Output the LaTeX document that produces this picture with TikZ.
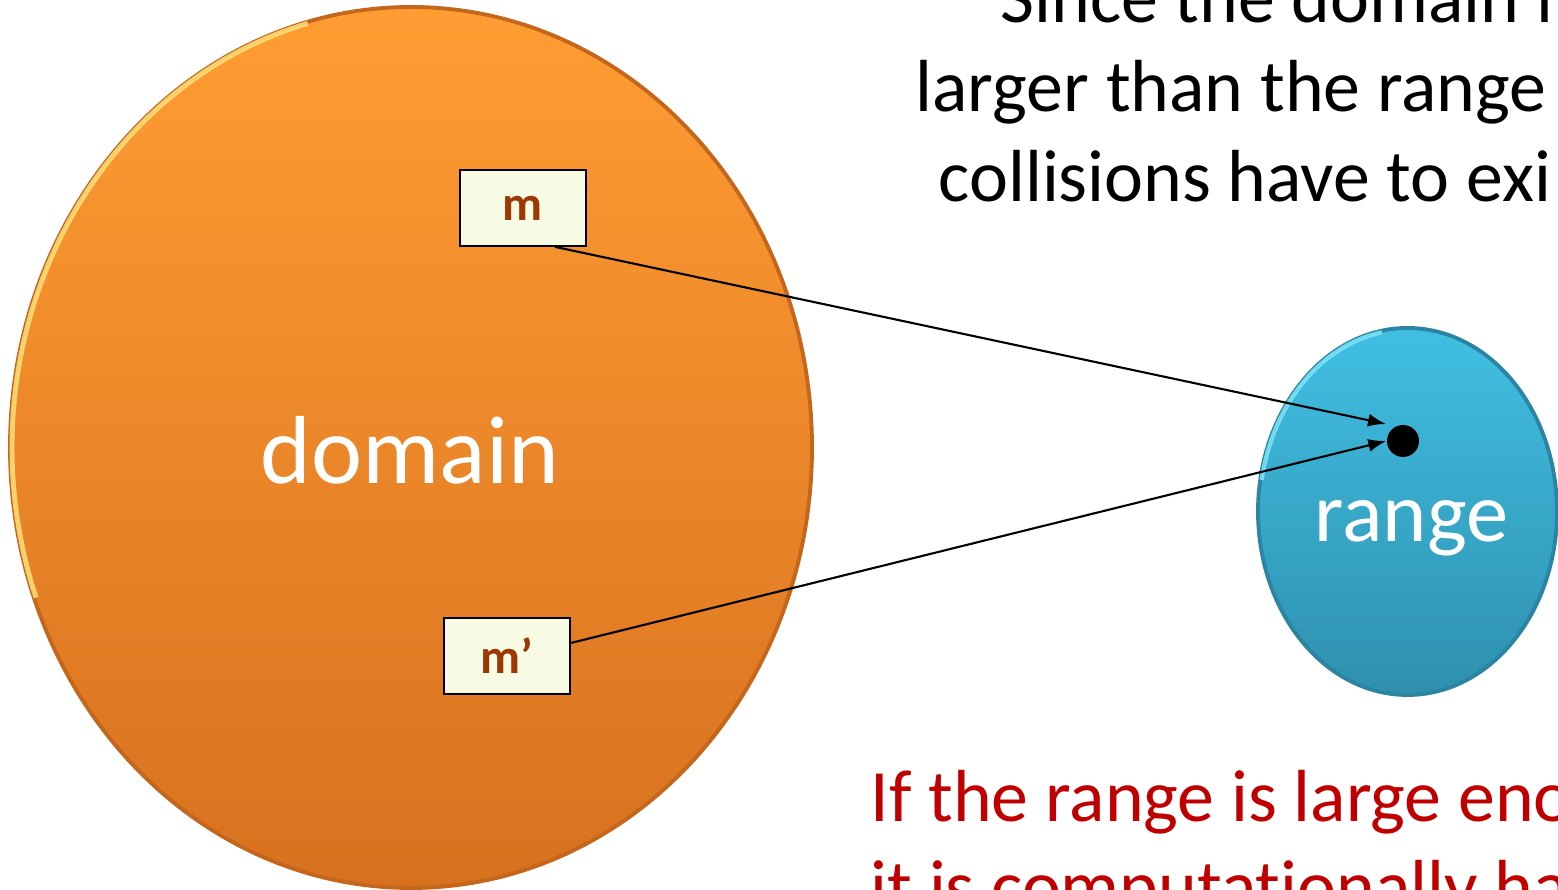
\documentclass[tikz,border=0pt]{standalone}
\usepackage{fontspec}
\setmainfont{Carlito}[Ligatures=NoCommon]
\usetikzlibrary{shapes.geometric,arrows.meta}
\tikzset{>={Latex[length=1.8mm,width=1.3mm]}}

\definecolor{domtop}{HTML}{FF9D33}
\definecolor{dombot}{HTML}{D7711F}
\definecolor{domedge}{HTML}{C4661C}
\definecolor{domrim}{HTML}{FFE27A}
\definecolor{rngtop}{HTML}{40BFE3}
\definecolor{rngbot}{HTML}{2F90AE}
\definecolor{rngedge}{HTML}{2B84A1}
\definecolor{rngrim}{HTML}{7FE8FA}
\definecolor{boxfill}{HTML}{F8FBE3}
\definecolor{msgtext}{HTML}{9C3805}
\definecolor{warnred}{HTML}{C00000}

\tikzset{
	blob/.style={ellipse, inner sep=0pt, line width=1.1pt},
	msgbox/.style={draw=black, line width=0.5pt, fill=boxfill, minimum width=1.26cm,
		minimum height=0.76cm, inner sep=0pt, text=msgtext,
		font=\fontsize{14}{16}\selectfont\bfseries},
	slide/.style={anchor=base west, inner sep=0pt, font=\fontsize{21}{25}\selectfont},
	mapsto/.style={->, line width=0.6pt}
}

\begin{document}
\begin{tikzpicture}
	%\draw[help lines] (0,0) grid (15,8);
	\useasboundingbox (0,0) rectangle (15.58,8.90);
	\clip (0,0) rectangle (15.58,8.90);
	% the two sets
	\node[blob, draw=domedge, top color=domtop, bottom color=dombot,
		minimum width=8.02cm, minimum height=8.81cm] (dom) at (4.11,4.425) {};
	\draw[domrim, line width=1.4pt, opacity=0.85] (dom.center) ++(105:3.99 and 4.39)
		arc[start angle=105, end angle=200, x radius=3.99, y radius=4.39];
	\node[text=white, font=\fontsize{27.5}{30}\selectfont] (domlbl) at (4.10,4.40) {domain};
	\node[blob, draw=rngedge, top color=rngtop, bottom color=rngbot,
		minimum width=2.99cm, minimum height=3.67cm] (rng) at (14.075,3.785) {};
	\draw[rngrim, line width=1.2pt, opacity=0.85] (rng.center) ++(100:1.48 and 1.82)
		arc[start angle=100, end angle=170, x radius=1.48, y radius=1.82];
	\node[text=white, anchor=base, font=\fontsize{24}{28}\selectfont] (rnglbl) at (14.115,3.48) {range};
	% messages and their common hash value
	\node[msgbox] (m) at (5.23,6.82) {m};
	\node[msgbox] (mp) at (5.07,2.34) {m’};
	\node[circle, fill=black, minimum size=0.32cm, inner sep=0pt] (hash) at (14.03,4.49) {};
	\draw[mapsto] ([xshift=3.2mm]m.south) -- ([shift={(-0.17,0.17)}]hash.center);
	\draw[mapsto] ([yshift=1.3mm]mp.east) -- (hash.west);
	% text
	\node[slide] (since) at (10.00,8.67) {Since the domain i};
	\node[slide] (larger) at (9.15,7.78) {larger than the range};
	\node[slide] (coll) at (9.38,6.88) {collisions have to exi};
	\node[slide, text=warnred] (iflarge) at (8.70,0.68) {If the range is large eno};
	\node[slide, text=warnred] (hard) at (8.70,-0.22) {it is computationally ha};
\end{tikzpicture}
\end{document}
